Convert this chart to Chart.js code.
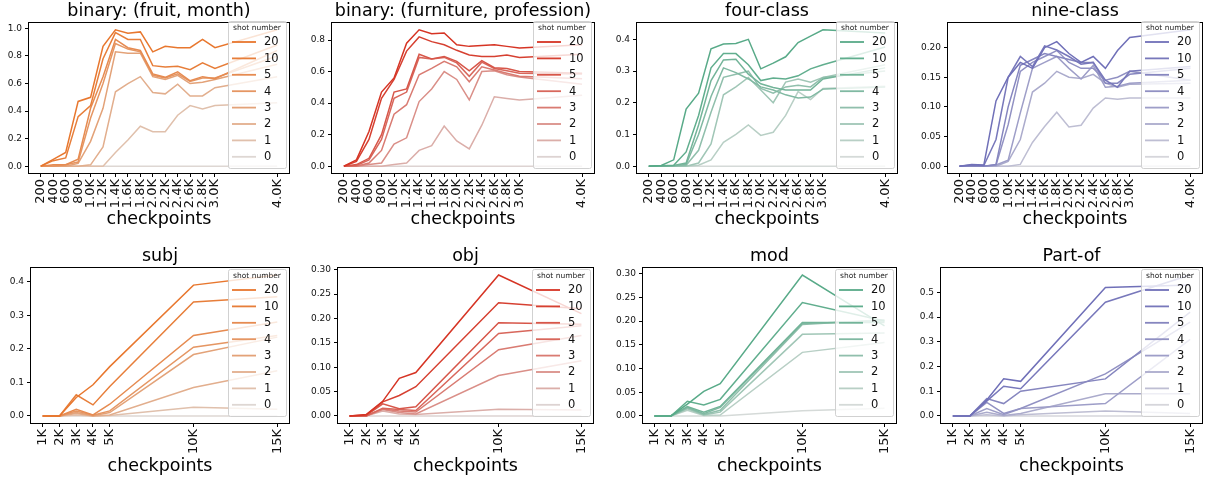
<!DOCTYPE html>
<html>
<head>
<meta charset="utf-8">
<script src="https://cdn.jsdelivr.net/npm/chart.js@4.4.0/dist/chart.umd.min.js"></script>
<style>
  body { margin: 0; background: #fff; overflow: hidden; }
  #wrap { position: relative; width: 1207px; height: 479px; overflow: hidden; }
  .panel { position: absolute; }
</style>
</head>
<body>
<div id="wrap"></div>
<script>
// checkpoints on the x axis
const stepsTop = [200, 400, 600, 800, 1000, 1200, 1400, 1600, 1800, 2000, 2200, 2400, 2600, 2800, 3000, 4000];
const stepsBottom = [1000, 2000, 3000, 4000, 5000, 10000, 15000];

// legend entries (shot number), darkest first
const shots = ['20', '10', '5', '4', '3', '2', '1', '0'];

// y tick values per panel
const yTicksFruit = [0, 0.2, 0.4, 0.6, 0.8, 1.0];
const yTicksFurniture = [0, 0.2, 0.4, 0.6, 0.8];
const yTicksFour = [0, 0.1, 0.2, 0.3, 0.4];
const yTicksNine = [0, 0.05, 0.10, 0.15, 0.20];
const yTicksSubj = [0, 0.1, 0.2, 0.3, 0.4];
const yTicksObj = [0, 0.05, 0.10, 0.15, 0.20, 0.25, 0.30];
const yTicksMod = [0, 0.05, 0.10, 0.15, 0.20, 0.25, 0.30];
const yTicksPart = [0, 0.1, 0.2, 0.3, 0.4, 0.5];

// one row per shot number (20, 10, 5, 4, 3, 2, 1, 0)
const fruitMonth = [
  [0, 0.05, 0.10, 0.47, 0.50, 0.87, 0.99, 0.965, 0.975, 0.83, 0.87, 0.86, 0.86, 0.92, 0.86, 0.99],
  [0, 0.04, 0.06, 0.36, 0.44, 0.78, 0.97, 0.92, 0.92, 0.73, 0.72, 0.725, 0.70, 0.75, 0.71, 0.88],
  [0, 0.01, 0.01, 0.05, 0.42, 0.65, 0.92, 0.86, 0.84, 0.67, 0.645, 0.685, 0.62, 0.65, 0.635, 0.84],
  [0, 0, 0.01, 0.03, 0.35, 0.60, 0.89, 0.85, 0.83, 0.66, 0.64, 0.67, 0.615, 0.64, 0.64, 0.80],
  [0, 0, 0, 0.02, 0.18, 0.42, 0.83, 0.82, 0.82, 0.65, 0.63, 0.66, 0.60, 0.61, 0.63, 0.74],
  [0, 0, 0, 0, 0.01, 0.14, 0.54, 0.60, 0.65, 0.535, 0.525, 0.595, 0.51, 0.51, 0.57, 0.65],
  [0, 0, 0, 0, 0, 0, 0.10, 0.19, 0.29, 0.25, 0.25, 0.37, 0.44, 0.415, 0.44, 0.46],
  [0, 0, 0, 0, 0, 0, 0, 0, 0, 0, 0, 0, 0, 0, 0, 0]
];
const furnitureProfession = [
  [0, 0.04, 0.22, 0.47, 0.56, 0.78, 0.865, 0.84, 0.845, 0.77, 0.76, 0.765, 0.77, 0.76, 0.75, 0.77],
  [0, 0.03, 0.17, 0.43, 0.55, 0.73, 0.82, 0.79, 0.77, 0.735, 0.705, 0.695, 0.695, 0.705, 0.69, 0.71],
  [0, 0.01, 0.05, 0.20, 0.47, 0.49, 0.71, 0.68, 0.695, 0.665, 0.605, 0.67, 0.625, 0.62, 0.60, 0.59],
  [0, 0.005, 0.04, 0.17, 0.43, 0.47, 0.69, 0.68, 0.69, 0.655, 0.57, 0.66, 0.62, 0.605, 0.59, 0.585],
  [0, 0, 0.02, 0.10, 0.33, 0.39, 0.58, 0.62, 0.665, 0.63, 0.535, 0.63, 0.61, 0.59, 0.57, 0.555],
  [0, 0, 0.01, 0.02, 0.14, 0.18, 0.41, 0.49, 0.60, 0.55, 0.42, 0.60, 0.605, 0.58, 0.565, 0.52],
  [0, 0, 0, 0, 0.01, 0.02, 0.10, 0.13, 0.255, 0.16, 0.11, 0.26, 0.44, 0.43, 0.42, 0.45],
  [0, 0, 0, 0, 0, 0, 0, 0, 0, 0, 0, 0, 0, 0, 0, 0]
];
const fourClass = [
  [0, 0.002, 0.02, 0.18, 0.23, 0.37, 0.385, 0.387, 0.40, 0.307, 0.325, 0.345, 0.39, 0.41, 0.43, 0.42],
  [0, 0.001, 0.003, 0.045, 0.16, 0.31, 0.355, 0.355, 0.32, 0.27, 0.278, 0.275, 0.285, 0.307, 0.32, 0.376],
  [0, 0, 0.002, 0.01, 0.13, 0.27, 0.335, 0.337, 0.29, 0.26, 0.248, 0.24, 0.24, 0.24, 0.275, 0.31],
  [0, 0, 0.001, 0.005, 0.10, 0.22, 0.31, 0.295, 0.275, 0.25, 0.24, 0.225, 0.215, 0.218, 0.243, 0.25],
  [0, 0, 0, 0.003, 0.05, 0.17, 0.28, 0.29, 0.30, 0.245, 0.23, 0.25, 0.255, 0.25, 0.28, 0.30],
  [0, 0, 0, 0, 0.01, 0.07, 0.225, 0.25, 0.28, 0.24, 0.20, 0.265, 0.275, 0.265, 0.28, 0.32],
  [0, 0, 0, 0, 0.003, 0.02, 0.075, 0.10, 0.13, 0.097, 0.107, 0.16, 0.235, 0.21, 0.245, 0.252],
  [0, 0, 0, 0, 0, 0, 0, 0, 0, 0, 0, 0, 0, 0, 0, 0]
];
const nineClass = [
  [0, 0.003, 0.002, 0.11, 0.15, 0.175, 0.165, 0.20, 0.21, 0.19, 0.175, 0.185, 0.165, 0.195, 0.217, 0.23],
  [0, 0.002, 0.001, 0.045, 0.15, 0.185, 0.168, 0.203, 0.196, 0.185, 0.172, 0.175, 0.145, 0.133, 0.16, 0.168],
  [0, 0, 0, 0.003, 0.10, 0.17, 0.18, 0.19, 0.185, 0.18, 0.175, 0.175, 0.14, 0.14, 0.155, 0.165],
  [0, 0, 0, 0.002, 0.07, 0.16, 0.175, 0.185, 0.195, 0.175, 0.165, 0.165, 0.145, 0.15, 0.16, 0.145],
  [0, 0, 0, 0.002, 0.01, 0.09, 0.165, 0.175, 0.185, 0.165, 0.147, 0.17, 0.133, 0.135, 0.14, 0.145],
  [0, 0, 0, 0, 0.008, 0.045, 0.125, 0.14, 0.16, 0.15, 0.148, 0.155, 0.14, 0.133, 0.138, 0.14],
  [0, 0, 0, 0, 0, 0.003, 0.04, 0.067, 0.091, 0.066, 0.069, 0.098, 0.115, 0.113, 0.115, 0.115],
  [0, 0, 0, 0, 0, 0, 0, 0, 0, 0, 0, 0, 0, 0, 0, 0]
];
const subj = [
  [0, 0, 0.055, 0.093, 0.147, 0.39, 0.42],
  [0, 0, 0.063, 0.033, 0.088, 0.34, 0.355],
  [0, 0, 0.02, 0.003, 0.035, 0.24, 0.28],
  [0, 0, 0.015, 0.002, 0.015, 0.205, 0.24],
  [0, 0, 0.01, 0.001, 0.01, 0.183, 0.235],
  [0, 0, 0.007, 0, 0.003, 0.085, 0.135],
  [0, 0, 0.003, 0, 0.001, 0.026, 0.02],
  [0, 0, 0, 0, 0, 0, 0]
];
const obj = [
  [0, 0.003, 0.03, 0.077, 0.089, 0.289, 0.21],
  [0, 0.002, 0.029, 0.042, 0.06, 0.232, 0.22],
  [0, 0.001, 0.025, 0.015, 0.019, 0.191, 0.188],
  [0, 0, 0.016, 0.013, 0.011, 0.169, 0.185],
  [0, 0, 0.014, 0.01, 0.008, 0.136, 0.165],
  [0, 0, 0.013, 0.007, 0.004, 0.083, 0.113],
  [0, 0, 0.01, 0.004, 0.003, 0.014, 0.012],
  [0, 0, 0, 0, 0, 0, 0]
];
const mod = [
  [0, 0, 0.025, 0.052, 0.068, 0.297, 0.19],
  [0, 0, 0.031, 0.023, 0.035, 0.239, 0.20],
  [0, 0, 0.02, 0.008, 0.02, 0.197, 0.197],
  [0, 0, 0.018, 0.005, 0.018, 0.195, 0.20],
  [0, 0, 0.017, 0.003, 0.012, 0.193, 0.203],
  [0, 0, 0.015, 0.002, 0.008, 0.172, 0.175],
  [0, 0, 0.012, 0.001, 0.002, 0.134, 0.155],
  [0, 0, 0, 0, 0, 0.011, 0.016]
];
const partOf = [
  [0, 0, 0.065, 0.15, 0.14, 0.52, 0.53],
  [0, 0, 0.06, 0.12, 0.11, 0.46, 0.57],
  [0, 0, 0.07, 0.05, 0.10, 0.15, 0.42],
  [0, 0, 0.055, 0.01, 0.03, 0.17, 0.38],
  [0, 0, 0.03, 0.005, 0.03, 0.05, 0.31],
  [0, 0, 0.015, 0.002, 0.01, 0.09, 0.09],
  [0, 0, 0.005, 0, 0.005, 0.02, 0.01],
  [0, 0, 0, 0, 0, 0, 0]
];

Chart.defaults.font.family = "'DejaVu Sans', sans-serif";
Chart.defaults.color = '#111';

const ORANGE = [232, 119, 46], RED = [214, 52, 36], GREEN = [88, 170, 136], PURPLE = [112, 112, 184];
const GRAY = [221, 221, 221];
const shade = [1, 0.93, 0.8, 0.7, 0.58, 0.46, 0.28, 0.06];

function mix(base, t) {
  const c = base.map((v, i) => Math.round(GRAY[i] + (v - GRAY[i]) * t));
  return `rgb(${c[0]},${c[1]},${c[2]})`;
}

const fmtTop = v => v < 1000 ? String(v) : (v / 1000).toFixed(1) + 'K';
const fmtBottom = v => (v / 1000) + 'K';

// plot-area boxes in page pixels
const panels = [
  { title: 'binary: (fruit, month)', steps: stepsTop, rows: fruitMonth, base: ORANGE, yTicks: yTicksFruit, dec: 1, fmt: fmtTop, box: [29, 23, 289, 173], xh: 57, legDy: -2 },
  { title: 'binary: (furniture, profession)', steps: stepsTop, rows: furnitureProfession, base: RED, yTicks: yTicksFurniture, dec: 1, fmt: fmtTop, box: [332, 23, 594, 173], xh: 57, legDy: -2 },
  { title: 'four-class', steps: stepsTop, rows: fourClass, base: GREEN, yTicks: yTicksFour, dec: 1, fmt: fmtTop, box: [637, 23, 897, 173], xh: 57, legDy: -2 },
  { title: 'nine-class', steps: stepsTop, rows: nineClass, base: PURPLE, yTicks: yTicksNine, dec: 2, fmt: fmtTop, box: [948, 23, 1202, 173], xh: 57, legDy: -2 },
  { title: 'subj', steps: stepsBottom, rows: subj, base: ORANGE, yTicks: yTicksSubj, dec: 1, fmt: fmtBottom, box: [31, 268, 289, 423], xh: 54, legDy: 1 },
  { title: 'obj', steps: stepsBottom, rows: obj, base: RED, yTicks: yTicksObj, dec: 2, fmt: fmtBottom, box: [338, 268, 593, 423], xh: 54, legDy: 1 },
  { title: 'mod', steps: stepsBottom, rows: mod, base: GREEN, yTicks: yTicksMod, dec: 2, fmt: fmtBottom, box: [643, 268, 896, 423], xh: 54, legDy: 1 },
  { title: 'Part-of', steps: stepsBottom, rows: partOf, base: PURPLE, yTicks: yTicksPart, dec: 1, fmt: fmtBottom, box: [941, 268, 1202, 423], xh: 54, legDy: 1 }
];

const YW = 50, TOP = 23, RIGHT = 6;

// frame, title and the in-axes legend
const decorPlugin = {
  id: 'decor',
  afterDatasetsDraw(chart, args, opts) {
    const { ctx, chartArea: a } = chart;
    ctx.save();
    ctx.strokeStyle = '#000';
    ctx.lineWidth = 1;
    ctx.strokeRect(Math.round(a.left) - 0.5, Math.round(a.top) - 0.5, Math.round(a.right - a.left) + 1, Math.round(a.bottom - a.top) + 1);

    // legend
    const w = 58, h = 147;
    const x0 = a.right - 3 - w, y0 = a.top + opts.legDy;
    ctx.fillStyle = 'rgba(255,255,255,0.8)';
    ctx.strokeStyle = 'rgba(204,204,204,0.9)';
    ctx.beginPath();
    ctx.roundRect(x0 + 0.5, y0 + 0.5, w, h, 2);
    ctx.fill();
    ctx.stroke();
    ctx.fillStyle = '#222';
    ctx.font = "7.5px 'DejaVu Sans'";
    ctx.textAlign = 'center';
    ctx.textBaseline = 'middle';
    ctx.fillText('shot number', x0 + w / 2, y0 + 7.5);
    ctx.font = "11.5px 'DejaVu Sans'";
    ctx.textAlign = 'left';
    chart.data.datasets.forEach((ds, i) => {
      const y = y0 + 21 + i * 16.4;
      ctx.strokeStyle = ds.borderColor;
      ctx.lineWidth = 1.8;
      ctx.beginPath();
      ctx.moveTo(x0 + 4, y);
      ctx.lineTo(x0 + 28, y);
      ctx.stroke();
      ctx.fillStyle = '#111';
      ctx.fillText(ds.label, x0 + 36, y + 0.5);
    });

    // title
    ctx.fillStyle = '#000';
    ctx.font = "17.5px 'DejaVu Sans'";
    ctx.textAlign = 'center';
    ctx.textBaseline = 'middle';
    ctx.fillText(opts.title, (a.left + a.right) / 2, a.top - 11.5);
    ctx.restore();
  }
};

const wrap = document.getElementById('wrap');

panels.forEach(p => {
  const [L, T, R, B] = p.box;
  const div = document.createElement('div');
  div.className = 'panel';
  div.style.left = (L - YW) + 'px';
  div.style.top = (T - TOP) + 'px';
  div.style.width = (R - L + YW + RIGHT) + 'px';
  div.style.height = (B - T + TOP + p.xh) + 'px';
  const canvas = document.createElement('canvas');
  div.appendChild(canvas);
  wrap.appendChild(div);

  const all = p.rows.flat();
  const lo = Math.min(...all), hi = Math.max(...all);
  const yPad = (hi - lo) * 0.05;
  const s0 = p.steps[0], s1 = p.steps[p.steps.length - 1];
  const xPad = (s1 - s0) * 0.05;

  const datasets = p.rows.map((row, i) => ({
    label: shots[i],
    data: row.map((v, j) => ({ x: p.steps[j], y: v })),
    borderColor: mix(p.base, shade[i]),
    borderWidth: 1.5,
    pointRadius: 0,
    tension: 0,
    fill: false
  })).reverse();
  // draw lightest first so darker lines sit on top, keep legend order 20..0
  const ordered = datasets.slice().reverse();
  ordered.forEach((d, i) => { d.order = i; });

  new Chart(canvas, {
    type: 'line',
    data: { datasets: ordered },
    options: {
      responsive: true,
      maintainAspectRatio: false,
      animation: false,
      layout: { padding: { top: TOP, right: RIGHT, left: 0, bottom: 0 } },
      plugins: {
        legend: { display: false },
        tooltip: { enabled: false },
        decor: { title: p.title, legDy: p.legDy }
      },
      scales: {
        x: {
          type: 'linear',
          min: s0 - xPad,
          max: s1 + xPad,
          afterBuildTicks: s => { s.ticks = p.steps.map(v => ({ value: v })); },
          ticks: { autoSkip: false, minRotation: 90, maxRotation: 90, padding: 2, font: { size: 13 }, color: '#111', callback: v => p.fmt(v) },
          grid: { drawOnChartArea: false, tickLength: 4, color: '#000' },
          border: { display: false },
          title: { display: true, text: 'checkpoints', font: { size: 17.5 }, color: '#000', padding: 0 },
          afterFit: s => { s.height = p.xh; s.paddingLeft = 0; s.paddingRight = 0; }
        },
        y: {
          min: lo - yPad,
          max: hi + yPad,
          afterBuildTicks: s => { s.ticks = p.yTicks.map(v => ({ value: v })); },
          ticks: { padding: 3, font: { size: 9 }, color: '#111', callback: v => v.toFixed(p.dec) },
          grid: { drawOnChartArea: false, tickLength: 4, color: '#000' },
          border: { display: false },
          afterFit: s => { s.width = YW; s.paddingTop = 0; s.paddingBottom = 0; }
        }
      }
    },
    plugins: [decorPlugin]
  });
});
</script>
</body>
</html>
